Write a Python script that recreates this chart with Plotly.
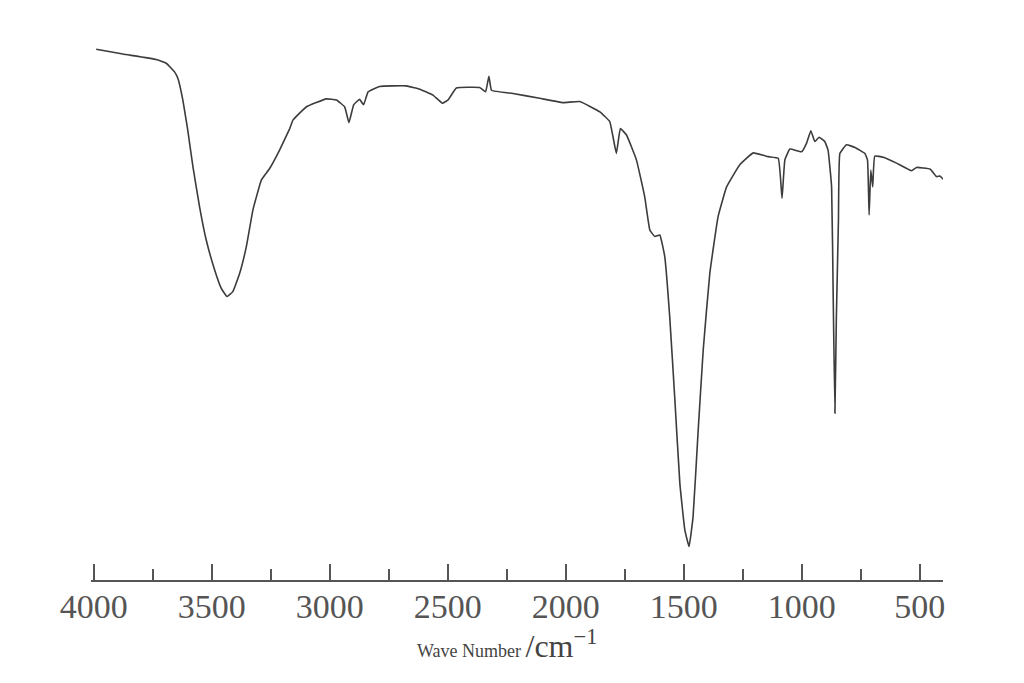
import plotly.graph_objects as go

# Wavenumber (cm^-1) and transmittance (arbitrary %)
wavenumber = [3990, 3877, 3736, 3693, 3658, 3644, 3623, 3602, 3580, 3552,
              3524, 3488, 3460, 3436, 3411, 3382, 3354, 3326, 3290, 3255,
              3213, 3170, 3156, 3100, 3015, 2972, 2937, 2919, 2899, 2874,
              2857, 2838, 2789, 2676, 2619, 2563, 2523, 2499, 2464, 2365,
              2340, 2326, 2315, 2224, 2111, 2012, 1941, 1856, 1814, 1786,
              1769, 1743, 1701, 1666, 1644, 1623, 1602, 1581, 1560, 1538,
              1517, 1496, 1478, 1461, 1440, 1418, 1390, 1355, 1319, 1263,
              1206, 1143, 1100, 1084, 1072, 1051, 1001, 980, 962, 945,
              927, 903, 889, 874, 867, 860, 854, 845, 839, 811,
              775, 733, 722, 715, 708, 700, 691, 655, 599, 535,
              514, 457, 429, 415, 401]
transmittance = [98.3, 97.4, 96.4, 95.7, 94.1, 92.9, 88.9, 83.3, 76.5, 69.1,
                 63.0, 57.4, 54.0, 52.5, 53.4, 56.8, 61.7, 68.5, 74.1, 76.2,
                 79.6, 83.6, 85.2, 87.6, 89.1, 88.9, 87.6, 84.7, 88.0, 89.0,
                 88.0, 90.4, 91.4, 91.5, 90.9, 89.8, 88.3, 88.9, 91.1, 91.2,
                 90.4, 93.3, 90.7, 90.1, 89.2, 88.4, 88.6, 86.7, 84.9, 79.0,
                 83.6, 82.4, 77.8, 71.0, 64.8, 63.6, 63.9, 59.9, 48.8, 33.3,
                 17.9, 9.3, 6.2, 11.7, 27.2, 42.6, 56.8, 67.3, 72.8, 76.9,
                 79.1, 78.4, 78.1, 70.7, 77.8, 79.8, 79.3, 80.9, 83.2, 81.2,
                 82.0, 81.2, 79.6, 72.8, 51.9, 30.9, 48.1, 66.7, 79.0, 80.6,
                 80.1, 79.0, 77.8, 67.6, 75.9, 72.8, 78.5, 78.3, 77.2, 75.8,
                 76.4, 76.1, 74.7, 74.8, 74.2]

tick_vals = [4000, 3500, 3000, 2500, 2000, 1500, 1000, 500]
tick_text = ["4000", "3500", "3000", "2500", "2000", "1500", "1000", "500"]
minor_vals = [3750, 3250, 2750, 2250, 1750, 1250, 750]

fig = go.Figure()
fig.add_trace(go.Scatter(
    x=wavenumber, y=transmittance, mode="lines",
    line=dict(color="#3c3c3c", width=1.6, shape="spline", smoothing=0.3),
    showlegend=False, hoverinfo="skip"))

fig.update_layout(
    width=1024, height=683,
    margin=dict(l=83, r=89, t=32, b=111),
    paper_bgcolor="white", plot_bgcolor="white",
    xaxis=dict(
        range=[4012, 402], showgrid=False, zeroline=False,
        showline=True, linecolor="#555555", linewidth=2,
        tickmode="array", tickvals=tick_vals, ticktext=tick_text,
        ticks="inside", ticklen=16, tickwidth=1.5, tickcolor="#555555",
        ticklabelstandoff=-5,
        minor=dict(tickmode="array", tickvals=minor_vals,
                   ticks="inside", ticklen=11, tickwidth=1.5, tickcolor="#555555"),
        tickfont=dict(family="Liberation Serif", size=34, color="#555555"),
    ),
    yaxis=dict(range=[0, 100], visible=False),
)

fig.add_annotation(
    xref="paper", yref="paper", x=0.488, y=-0.118,
    xanchor="center", yanchor="middle", showarrow=False,
    text="<span style='font-size:18px'>Wave Number</span> "
         "<span style='font-size:32px'>/cm<sup>−1</sup></span>",
    font=dict(family="Liberation Serif", size=18, color="#444444"),
)

fig.write_html("out.html")
